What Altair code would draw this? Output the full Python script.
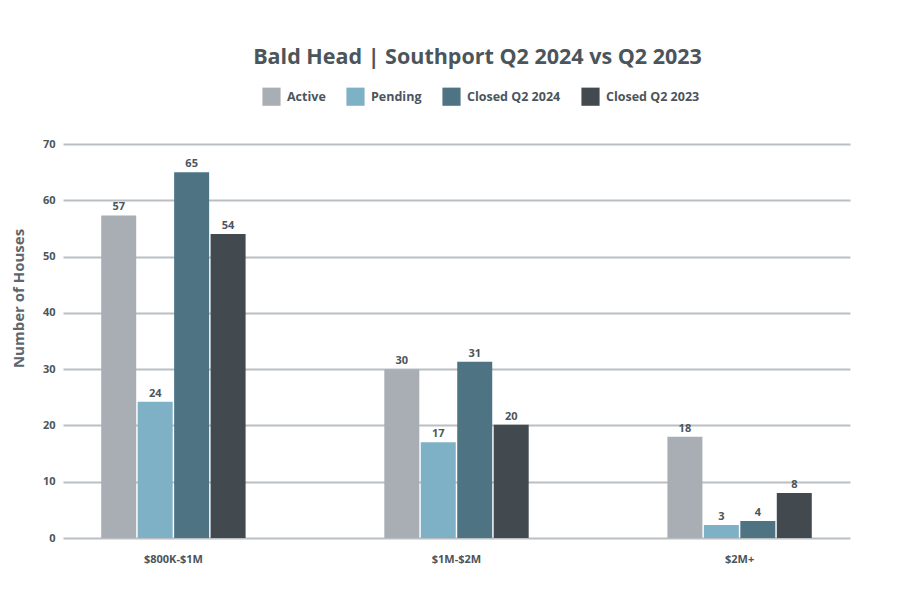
import altair as alt
import pandas as pd

categories = ["$800K-$1M", "$1M-$2M", "$2M+"]
series = ["Active", "Pending", "Closed Q2 2024", "Closed Q2 2023"]
active = [57.3, 30, 18]
pending = [24.2, 17, 2.3]
closed_2024 = [65, 31.3, 3]
closed_2023 = [54, 20.1, 8]
label_active = ["57", "30", "18"]
label_pending = ["24", "17", "3"]
label_closed_2024 = ["65", "31", "4"]
label_closed_2023 = ["54", "20", "8"]
colors = ["#a8aeb3", "#7fb1c6", "#4e7484", "#42494f"]

rows = []
for s, vals, labs in zip(series,
                         [active, pending, closed_2024, closed_2023],
                         [label_active, label_pending, label_closed_2024, label_closed_2023]):
    for c, v, l in zip(categories, vals, labs):
        rows.append({"category": c, "series": s, "value": v, "label": l})
df = pd.DataFrame(rows)

FONT = "Open Sans"
TXT = "#4b555b"

x = alt.X("category:N", sort=categories, title=None,
          scale=alt.Scale(paddingInner=0.49, paddingOuter=0.135),
          axis=alt.Axis(labelAngle=0, domain=False, ticks=False, labelPadding=15,
                        labelFont=FONT, labelFontWeight="bold", labelFontSize=11,
                        labelColor=TXT))
xo = alt.XOffset("series:N", sort=series, scale=alt.Scale(paddingInner=0.04))
y = alt.Y("value:Q", title="Number of Houses",
          scale=alt.Scale(domain=[0, 70]),
          axis=alt.Axis(values=[0, 10, 20, 30, 40, 50, 60, 70], domain=False, ticks=False,
                        labelPadding=8, labelFont=FONT, labelFontWeight="bold",
                        labelFontSize=11, labelColor=TXT,
                        titleFont=FONT, titleFontWeight="bold", titleFontSize=15,
                        titleColor="#5d666c", titlePadding=16, titleY=154,
                        gridColor="#b9bfc3", gridWidth=2))

bars = alt.Chart(df).mark_bar().encode(
    x=x, xOffset=xo, y=y,
    color=alt.Color("series:N", sort=series, title=None,
                    scale=alt.Scale(domain=series, range=colors),
                    legend=alt.Legend(orient="none", direction="horizontal",
                                      legendX=199, legendY=-57,
                                      symbolType="square", symbolSize=330,
                                      symbolStrokeWidth=0, symbolOpacity=1,
                                      labelFont=FONT, labelFontWeight="bold",
                                      labelFontSize=12.5, labelColor=TXT,
                                      columnPadding=20, labelOffset=6)),
)

labels = alt.Chart(df).mark_text(dy=-8, font=FONT, fontWeight="bold", fontSize=11,
                                 color=TXT).encode(
    x=alt.X("category:N", sort=categories), xOffset=xo,
    y=alt.Y("value:Q"), text="label:N",
)

chart = alt.layer(bars, labels).properties(
    width=787, height=394,
    autosize=alt.AutoSizeParams(type="none"),
    padding={"left": 55, "top": 136, "right": 40, "bottom": 54},
    background="white",
    title=alt.TitleParams("Bald Head | Southport Q2 2024 vs Q2 2023", font=FONT,
                          fontSize=21.5, fontWeight="bold", color=TXT,
                          anchor="middle", offset=19, dx=21),
).configure_view(stroke=None)

chart.save("out.html", embed_options={"renderer": "svg", "actions": False})
